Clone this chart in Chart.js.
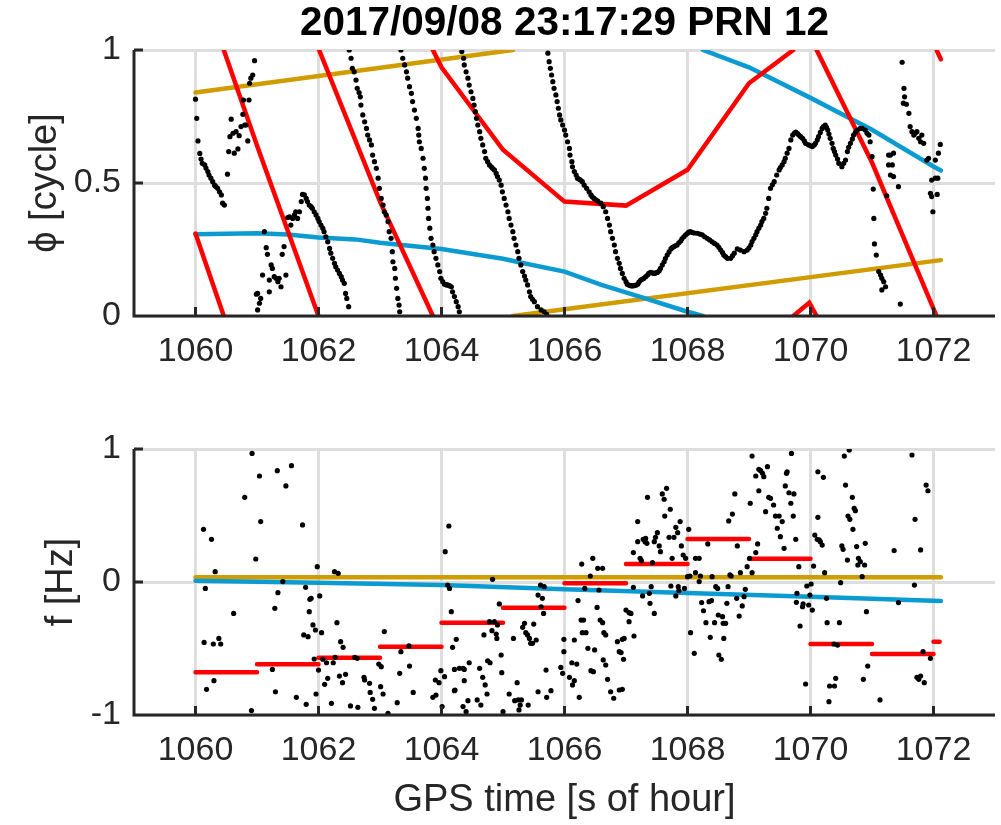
<!DOCTYPE html>
<html>
<head>
<meta charset="utf-8">
<script src="https://cdn.jsdelivr.net/npm/chart.js@4.4.1/dist/chart.umd.min.js"></script>
<style>
  body { margin: 0; background: #fff; }
  #wrap { position: relative; width: 1001px; height: 825px; }
  canvas { position: absolute; left: 0; }
  #phase { top: 0; }
  #freq { top: 400px; }
</style>
</head>
<body>
<div id="wrap">
  <canvas id="phase" width="1001" height="400"></canvas>
  <canvas id="freq" width="1001" height="425"></canvas>
</div>
<script>
  const TITLE = "2017/09/08 23:17:29 PRN 12";
  const xTicks = [1060, 1062, 1064, 1066, 1068, 1070, 1072];
  const phaseTicks = [0, 0.5, 1];
  const freqTicks = [-1, 0, 1];

  // measured phase [time, cycle]
  const phaseDots = [
    [1060.00,0.815],[1060.02,0.743],[1060.04,0.658],[1060.07,0.611],[1060.09,0.590],[1060.11,0.574],[1060.15,0.568],[1060.17,0.556],[1060.20,0.543],[1060.22,0.530],[1060.25,0.518],[1060.28,0.505],[1060.31,0.492],[1060.33,0.487],[1060.36,0.480],[1060.39,0.467],[1060.42,0.455],[1060.44,0.424],[1060.47,0.417],
    [1060.52,0.533],[1060.54,0.618],[1060.56,0.674],[1060.58,0.740],[1060.61,0.687],[1060.63,0.612],[1060.66,0.693],[1060.69,0.628],[1060.71,0.678],[1060.74,0.712],[1060.77,0.758],[1060.78,0.812],[1060.80,0.718],[1060.82,0.718],[1060.85,0.658],[1060.87,0.812],[1060.88,0.875],[1060.90,0.894],[1060.93,0.906],[1060.96,0.960],
    [1060.99,0.082],[1061.01,0.023],[1061.01,0.085],[1061.04,0.048],[1061.06,0.066],[1061.09,0.154],[1061.12,0.317],[1061.15,0.257],[1061.17,0.232],[1061.20,0.091],[1061.20,0.135],[1061.23,0.192],[1061.25,0.179],[1061.28,0.148],[1061.31,0.142],[1061.34,0.129],[1061.36,0.142],[1061.39,0.110],[1061.41,0.232],[1061.44,0.261],[1061.47,0.154],
    [1061.50,0.370],[1061.53,0.373],[1061.55,0.342],[1061.58,0.367],[1061.61,0.380],[1061.63,0.392],[1061.66,0.367],[1061.69,0.392],[1061.72,0.430],[1061.74,0.457],[1061.77,0.455],[1061.80,0.442],[1061.82,0.430],[1061.85,0.417],[1061.88,0.411],[1061.90,0.405],[1061.93,0.392],[1061.96,0.380],[1061.99,0.367],[1062.01,0.355],[1062.04,0.342],[1062.07,0.330],[1062.09,0.317],[1062.12,0.298],[1062.15,0.279],[1062.18,0.254],[1062.20,0.236],[1062.23,0.217],[1062.26,0.198],[1062.28,0.185],[1062.31,0.173],[1062.34,0.160],[1062.37,0.148],[1062.39,0.135],[1062.42,0.123],[1062.44,0.085],[1062.46,0.066],[1062.49,0.035],
    [1062.50,1.000],[1062.53,0.969],[1062.55,0.931],[1062.58,0.918],[1062.61,0.887],[1062.63,0.856],[1062.66,0.840],[1062.68,0.824],[1062.69,0.793],[1062.72,0.756],[1062.75,0.730],[1062.78,0.705],[1062.80,0.680],[1062.83,0.662],[1062.86,0.643],[1062.88,0.605],[1062.91,0.580],[1062.94,0.555],[1062.97,0.518],[1062.99,0.480],[1063.02,0.442],[1063.05,0.417],[1063.07,0.392],[1063.10,0.380],[1063.13,0.355],[1063.15,0.317],[1063.18,0.292],[1063.20,0.242],[1063.21,0.204],[1063.24,0.179],[1063.25,0.142],[1063.27,0.104],[1063.29,0.066],[1063.31,0.041],[1063.32,0.016],
    [1063.34,1.000],[1063.37,0.969],[1063.40,0.944],[1063.43,0.918],[1063.45,0.894],[1063.48,0.862],[1063.51,0.837],[1063.53,0.806],[1063.56,0.774],[1063.59,0.743],[1063.62,0.705],[1063.63,0.680],[1063.64,0.655],[1063.67,0.630],[1063.70,0.593],[1063.72,0.555],[1063.74,0.518],[1063.75,0.480],[1063.77,0.442],[1063.78,0.405],[1063.79,0.367],[1063.81,0.330],[1063.83,0.292],[1063.86,0.267],[1063.88,0.242],[1063.91,0.217],[1063.94,0.192],[1063.97,0.167],[1063.99,0.142],[1064.02,0.129],[1064.05,0.119],[1064.08,0.117],[1064.10,0.117],[1064.13,0.114],[1064.16,0.110],[1064.18,0.091],[1064.21,0.073],[1064.24,0.054],[1064.27,0.035],[1064.29,0.016],
    [1064.33,0.994],[1064.36,0.969],[1064.37,0.944],[1064.40,0.918],[1064.43,0.894],[1064.45,0.868],[1064.48,0.843],[1064.51,0.818],[1064.53,0.793],[1064.55,0.768],[1064.57,0.743],[1064.59,0.718],[1064.62,0.693],[1064.64,0.668],[1064.67,0.643],[1064.70,0.618],[1064.72,0.593],[1064.75,0.580],[1064.78,0.568],[1064.81,0.561],[1064.83,0.555],[1064.86,0.549],[1064.89,0.536],[1064.91,0.524],[1064.94,0.511],[1064.97,0.492],[1064.99,0.467],[1065.02,0.442],[1065.05,0.417],[1065.08,0.392],[1065.10,0.367],[1065.13,0.342],[1065.16,0.317],[1065.18,0.292],[1065.21,0.267],[1065.24,0.242],[1065.26,0.217],[1065.29,0.192],[1065.32,0.167],[1065.35,0.150],[1065.37,0.135],[1065.40,0.117],[1065.43,0.091],[1065.45,0.073],[1065.48,0.063],[1065.51,0.054],[1065.56,0.035],[1065.62,0.023],[1065.67,0.016],[1065.71,0.006],
    [1065.73,0.988],[1065.75,0.956],[1065.77,0.931],[1065.79,0.906],[1065.81,0.881],[1065.83,0.856],[1065.86,0.831],[1065.88,0.806],[1065.90,0.781],[1065.92,0.756],[1065.94,0.737],[1065.97,0.718],[1066.00,0.699],[1066.02,0.680],[1066.05,0.655],[1066.08,0.630],[1066.09,0.605],[1066.12,0.580],[1066.13,0.561],[1066.16,0.543],[1066.19,0.530],[1066.21,0.518],[1066.24,0.514],[1066.26,0.511],[1066.29,0.505],[1066.32,0.492],[1066.36,0.480],[1066.40,0.467],[1066.43,0.455],[1066.45,0.448],[1066.48,0.442],[1066.51,0.437],[1066.54,0.432],[1066.59,0.424],[1066.63,0.411],[1066.67,0.392],[1066.70,0.367],[1066.73,0.342],[1066.75,0.317],[1066.78,0.292],[1066.81,0.267],[1066.83,0.242],[1066.86,0.217],[1066.89,0.198],[1066.91,0.179],[1066.94,0.160],[1066.97,0.142],[1067.00,0.129],[1067.02,0.119],[1067.05,0.116],[1067.08,0.114],[1067.10,0.113],[1067.13,0.114],[1067.16,0.116],[1067.19,0.119],[1067.21,0.127],[1067.24,0.135],[1067.27,0.139],[1067.29,0.142],[1067.32,0.148],[1067.35,0.154],[1067.37,0.160],[1067.40,0.164],[1067.43,0.162],[1067.46,0.160],[1067.48,0.162],[1067.51,0.164],[1067.54,0.170],[1067.56,0.179],[1067.59,0.192],[1067.62,0.204],[1067.64,0.216],[1067.67,0.229],[1067.70,0.241],[1067.73,0.252],[1067.75,0.257],[1067.78,0.261],[1067.80,0.264],[1067.83,0.267],[1067.86,0.275],[1067.89,0.282],[1067.91,0.290],[1067.94,0.298],[1067.97,0.305],[1068.00,0.311],[1068.02,0.315],[1068.05,0.317],[1068.08,0.314],[1068.11,0.312],[1068.16,0.311],[1068.20,0.308],[1068.24,0.305],[1068.28,0.298],[1068.32,0.292],[1068.36,0.286],[1068.40,0.279],[1068.44,0.273],[1068.48,0.267],[1068.51,0.258],[1068.54,0.248],[1068.57,0.238],[1068.59,0.229],[1068.62,0.223],[1068.65,0.217],[1068.70,0.217],[1068.73,0.226],[1068.76,0.236],[1068.81,0.252],[1068.86,0.248],[1068.92,0.242],[1068.97,0.248],[1069.00,0.256],[1069.03,0.267],[1069.05,0.280],[1069.08,0.292],[1069.11,0.305],[1069.13,0.317],[1069.16,0.330],[1069.19,0.342],[1069.21,0.355],[1069.24,0.367],[1069.27,0.386],[1069.29,0.405],[1069.32,0.442],[1069.35,0.480],[1069.38,0.493],[1069.41,0.505],[1069.45,0.530],[1069.49,0.549],[1069.51,0.558],[1069.54,0.568],[1069.57,0.580],[1069.59,0.593],[1069.62,0.612],[1069.65,0.630],[1069.68,0.662],[1069.71,0.680],[1069.74,0.688],[1069.76,0.691],[1069.79,0.686],[1069.81,0.680],[1069.84,0.674],[1069.87,0.668],[1069.90,0.658],[1069.92,0.649],[1069.97,0.643],[1070.00,0.640],[1070.03,0.637],[1070.06,0.643],[1070.08,0.649],[1070.11,0.662],[1070.13,0.674],[1070.16,0.690],[1070.19,0.705],[1070.21,0.712],[1070.24,0.718],[1070.26,0.709],[1070.28,0.699],[1070.30,0.684],[1070.32,0.668],[1070.35,0.649],[1070.37,0.630],[1070.39,0.618],[1070.41,0.605],[1070.44,0.590],[1070.46,0.574],[1070.51,0.561],[1070.54,0.574],[1070.57,0.586],[1070.60,0.618],[1070.62,0.634],[1070.65,0.649],[1070.68,0.665],[1070.70,0.680],[1070.73,0.690],[1070.76,0.699],[1070.81,0.705],[1070.84,0.705],[1070.89,0.699],[1070.92,0.687],[1070.95,0.680],[1070.97,0.655],[1071.00,0.599],[1071.02,0.477],
    [1071.03,0.367],[1071.04,0.271],[1071.07,0.229],[1071.11,0.167],[1071.14,0.154],[1071.16,0.142],[1071.19,0.129],[1071.16,0.098],[1071.22,0.110],[1071.24,0.452],[1071.27,0.605],[1071.30,0.605],[1071.35,0.612],[1071.27,0.568],[1071.33,0.568],[1071.30,0.530],[1071.35,0.524],[1071.43,0.486],[1071.46,0.045],[1071.49,0.954],[1071.52,0.856],[1071.53,0.824],[1071.51,0.800],[1071.56,0.796],[1071.60,0.762],[1071.62,0.712],[1071.65,0.693],[1071.68,0.680],[1071.70,0.687],[1071.73,0.693],[1071.76,0.668],[1071.79,0.655],[1071.81,0.680],[1071.84,0.649],[1071.89,0.586],[1071.92,0.593],[1071.97,0.511],[1072.03,0.518],[1072.07,0.518],[1071.95,0.461],[1071.97,0.449],[1072.06,0.457],[1071.99,0.392],[1072.03,0.586],[1072.08,0.612],[1072.11,0.645]
  ];

  // model phases, wrapped; [t, null] breaks the line
  const phaseRed = [
    [1060.00,0.310],[1060.46,0.000],[1060.46,null],[1060.46,1.000],[1061.00,0.641],[1062.00,0.000],[1062.00,null],
    [1062.01,1.000],[1063.00,0.430],[1063.86,0.000],[1063.86,null],
    [1063.86,1.000],[1064.00,0.935],[1065.00,0.625],[1066.00,0.430],[1067.00,0.415],[1068.00,0.550],[1069.00,0.875],[1069.72,1.000],[1069.72,null],
    [1069.72,0.000],[1069.98,0.050],[1070.10,0.000],[1070.10,null],
    [1070.10,1.000],[1071.00,0.577],[1072.05,0.000],[1072.05,null],
    [1072.05,1.000],[1072.12,0.965]
  ];
  const phaseBlue = [
    [1060.00,0.307],[1061.00,0.311],[1061.50,0.306],[1062.00,0.295],[1062.60,0.288],[1063.00,0.275],[1064.00,0.252],[1065.00,0.215],[1065.30,0.200],[1066.00,0.167],[1066.60,0.117],[1067.30,0.067],[1068.00,0.016],[1068.25,0.000],[1068.25,null],
    [1068.25,1.000],[1069.00,0.935],[1070.00,0.820],[1071.00,0.700],[1072.00,0.562],[1072.12,0.547]
  ];
  const phaseGold = [
    [1060.00,0.840],[1065.16,1.000],[1065.16,null],[1065.16,0.000],[1072.12,0.210]
  ];

  // measured frequency [time, Hz]
  const freqDots = [
    [1060.13,0.396],[1060.26,0.321],[1060.32,0.078],[1060.16,-0.048],[1060.14,-0.454],[1060.29,-0.466],[1060.38,-0.424],[1060.41,-0.466],[1060.30,-0.742],[1060.18,-0.807],[1060.62,-0.236],[1060.80,0.637],[1060.92,0.967],[1061.04,0.797],[1061.06,0.454],[1060.98,0.173],[1060.91,-0.967],[1061.25,-0.657],[1061.30,-0.825],[1061.33,0.837],[1061.47,0.722],[1061.56,0.875],[1061.34,-0.080],[1061.42,0.003],[1061.29,-0.198],[1061.74,0.429],[1061.79,-0.040],[1061.86,-0.130],[1061.88,-0.123],[1061.85,-0.223],[1061.91,-0.323],[1061.95,-0.361],[1062.05,-0.381],[1061.76,-0.398],[1061.83,-0.411],[1061.98,0.115],[1062.02,-0.105],[1061.64,-0.867],[1061.80,-0.920],[1061.96,-0.842],[1061.93,-0.579],[1062.00,-0.662],[1062.07,-0.581],[1062.13,-0.607],[1062.15,-0.724],[1062.10,-0.769],[1062.21,-0.912],[1062.26,0.078],[1062.32,0.065],[1062.30,-0.306],[1062.24,-0.607],[1062.27,-0.566],[1062.36,-0.449],[1062.40,-0.491],[1062.34,-0.707],[1062.39,-0.757],[1062.44,-0.694],[1062.52,-0.932],[1062.64,-0.942],[1062.59,-0.566],[1062.63,-0.574],[1062.74,-0.717],[1062.75,-0.737],[1062.83,-0.762],[1062.84,-0.830],[1062.88,-0.882],[1062.91,-0.950],[1063.01,-0.787],[1063.05,-0.842],[1063.13,-0.987],[1062.98,-0.617],[1063.02,-0.637],[1063.07,-0.373],[1063.32,-0.687],[1063.34,-0.524],[1063.47,-0.481],[1063.48,-0.632],[1063.28,-0.907],[1063.54,-0.830],[1063.86,-0.867],[1063.91,-0.850],[1063.90,-0.737],[1063.96,-0.757],[1063.99,-0.667],[1064.05,-0.712],[1064.01,-0.937],[1064.21,-0.817],[1064.18,-0.491],[1064.21,-0.657],[1064.24,-0.431],[1064.16,-0.223],[1064.06,0.228],[1064.12,0.421],[1064.10,-0.023],[1064.13,-0.048],
    [1064.35,-0.937],[1064.40,-0.975],[1064.43,-0.892],[1064.37,-0.742],[1064.29,-0.649],[1064.35,-0.649],[1064.37,-0.657],[1064.45,-0.607],[1064.22,-0.812],[1064.58,-0.887],[1064.64,-0.925],[1064.62,-0.649],[1064.67,-0.717],[1064.71,-0.774],[1064.74,-0.842],[1064.69,-0.398],[1064.75,-0.592],[1064.79,-0.607],[1064.83,0.020],[1064.78,-0.298],[1064.82,-0.366],[1064.86,-0.298],[1064.89,-0.391],[1064.90,-0.424],[1064.91,-0.323],[1064.94,-0.165],[1064.97,-0.549],[1064.98,-0.682],[1065.00,-0.975],[1065.10,-0.842],[1065.17,-0.424],[1065.23,-0.757],[1065.19,-0.892],[1065.25,-0.887],[1065.28,-0.925],[1065.30,-0.887],[1065.26,-0.962],[1065.32,-0.341],[1065.35,-0.311],[1065.37,-0.381],[1065.40,-0.398],[1065.43,-0.424],[1065.45,-0.461],[1065.50,-0.316],[1065.48,-0.461],[1065.54,-0.436],[1065.41,-0.925],[1065.57,-0.825],[1065.71,-0.867],[1065.78,-0.817],[1065.70,-0.662],[1065.61,-0.023],[1065.57,-0.098],[1065.64,-0.123],[1065.62,-0.186],[1065.66,-0.236],[1065.67,-0.035],[1065.94,-0.642],[1065.97,-0.687],[1065.99,-0.524],[1065.99,-0.431],[1066.08,-0.717],[1066.13,-0.774],[1066.16,-0.742],[1066.24,-0.867],[1066.12,-0.607],[1066.20,-0.617],[1066.16,-0.436],[1066.27,-0.286],[1066.31,-0.286],[1066.29,-0.381],[1066.35,-0.381],[1066.38,-0.499],[1066.22,-0.140],[1066.28,0.135],[1066.33,-0.048],[1066.42,0.045],[1066.46,0.178],[1066.43,-0.667],[1066.47,-0.674],[1066.49,-0.511],[1066.53,-0.191],[1066.56,-0.060],[1066.54,0.103],[1066.62,0.103],[1066.58,-0.286],[1066.62,-0.306],[1066.64,-0.381],[1066.67,-0.398],[1066.63,-0.586],[1066.67,-0.624],[1066.70,-0.732],[1066.75,-0.825],[1066.80,-0.874],[1066.86,-0.449],[1066.89,-0.524],[1066.92,-0.531],[1066.96,-0.581],[1066.94,-0.431],[1066.97,-0.424],[1066.89,-0.812],[1066.94,-0.807],[1067.00,-0.211],[1067.05,-0.231],[1067.08,-0.236],[1067.05,-0.298],[1067.13,-0.406],[1067.12,-0.040],[1067.19,0.454],[1067.19,0.303],[1067.12,0.221],[1067.23,0.178],[1067.25,0.160],[1067.28,0.321],[1067.32,0.328],[1067.31,0.303],[1067.35,0.637],[1067.34,0.291],[1067.27,-0.105],[1067.39,-0.160],[1067.38,-0.085],[1067.41,-0.035],[1067.46,-0.236],[1067.43,0.145],[1067.46,0.303],[1067.48,0.336],[1067.51,0.371],[1067.54,0.271],[1067.56,0.228],[1067.59,0.662],[1067.62,0.622],[1067.66,0.704],[1067.63,0.496],[1067.72,0.547],[1067.70,0.336],[1067.73,-0.030],[1067.75,0.178],[1067.78,0.336],[1067.81,0.411],[1067.84,0.371],[1067.85,-0.035],[1067.86,-0.065],[1067.88,0.454],[1067.81,-0.105],[1067.90,0.271],[1067.93,0.203],[1067.97,0.178],[1067.95,-0.048],[1068.02,0.396],[1068.00,0.040],[1068.04,0.045],[1068.05,-0.381],[1068.11,-0.536],[1068.13,0.178],[1068.19,0.178],[1068.13,0.070],[1068.19,0.003],[1068.21,0.045],[1068.23,-0.155],[1068.26,-0.216],[1068.30,-0.306],[1068.33,0.286],[1068.35,-0.148],[1068.37,-0.416],[1068.39,-0.140],[1068.40,0.040],[1068.44,-0.306],[1068.46,-0.035],[1068.49,-0.048],[1068.50,-0.248],[1068.51,-0.549],[1068.55,-0.581],[1068.57,-0.261],[1068.58,-0.311],[1068.59,-0.424],[1068.62,-0.311],[1068.64,-0.160],[1068.66,-0.035],[1068.69,0.053],[1068.71,0.045],[1068.67,0.459],[1068.73,0.511],[1068.77,0.662],[1068.81,0.271],[1068.80,-0.123],[1068.84,-0.256],[1068.86,0.070],[1068.89,-0.180],[1068.92,-0.110],[1068.94,-0.055],[1068.97,0.115],[1069.02,0.592],[1069.05,0.947],[1069.11,0.797],[1069.16,0.686],[1069.05,0.070],[1069.11,0.221],[1069.14,0.286],[1069.16,0.847],[1069.01,0.178],
    [1069.19,0.837],[1069.22,0.817],[1069.24,0.792],[1069.27,0.529],[1069.30,0.867],[1069.32,0.637],[1069.35,0.629],[1069.40,0.579],[1069.43,0.496],[1069.46,0.404],[1069.49,0.496],[1069.51,0.341],[1069.54,0.454],[1069.57,0.253],[1069.59,0.722],[1069.61,0.817],[1069.62,0.829],[1069.65,0.671],[1069.68,0.592],[1069.69,0.967],[1069.72,0.496],[1069.73,0.662],[1069.76,0.321],[1069.81,0.115],[1069.78,-0.085],[1069.77,-0.153],[1069.83,-0.331],[1069.87,-0.186],[1069.88,-0.165],[1069.92,-0.767],[1069.94,-0.030],[1069.97,-0.173],[1069.99,-0.098],[1070.01,-0.015],[1070.03,-0.211],[1070.05,0.120],[1070.07,0.353],[1070.11,0.321],[1070.14,0.316],[1070.12,0.486],[1070.12,0.829],[1070.21,0.787],[1070.16,0.303],[1070.19,0.278],[1070.23,0.070],[1070.26,-0.123],[1070.27,-0.306],[1070.30,-0.900],[1070.31,-0.782],[1070.39,-0.782],[1070.41,-0.724],[1070.38,-0.466],[1070.44,-0.474],[1070.47,-0.306],[1070.49,-0.005],[1070.51,0.271],[1070.53,0.246],[1070.55,0.947],[1070.63,0.992],[1070.57,0.729],[1070.60,0.165],[1070.61,0.496],[1070.64,0.471],[1070.68,0.637],[1070.69,0.396],[1070.71,0.554],[1070.73,0.536],[1070.75,0.266],[1070.77,0.128],[1070.78,0.178],[1070.81,0.153],[1070.84,0.040],[1070.88,0.128],[1070.89,0.291],[1070.91,-0.223],[1070.93,-0.632],[1070.86,-0.732],[1071.13,-0.887],[1071.36,0.236],[1071.43,-0.155],[1071.65,0.955],[1071.70,0.471],[1071.79,0.241],[1071.69,-0.023],[1071.73,-0.717],[1071.76,-0.732],[1071.79,-0.707],[1071.83,-0.524],[1071.85,-0.757],[1071.88,0.729],[1071.91,0.686],[1071.95,-0.574]
  ];

  // red per-second frequency estimate
  const stepStart = [1060, 1061, 1062, 1063, 1064, 1065, 1066, 1067, 1068, 1069, 1070, 1071, 1072];
  const stepEnd   = [1061, 1062, 1063, 1064, 1065, 1066, 1067, 1068, 1069, 1070, 1071, 1072, 1072.1];
  const stepFreq  = [-0.679, -0.619, -0.569, -0.486, -0.306, -0.193, -0.010, 0.135, 0.323, 0.175, -0.466, -0.541, -0.449];
  const freqBlue = [[1060,0.010],[1062,-0.005],[1064,-0.023],[1066,-0.055],[1068,-0.082],[1070,-0.110],[1072.12,-0.143]];
  const freqGold = [[1060,0.035],[1072.12,0.035]];

  const FONT = "'Liberation Sans', Arial, sans-serif";
  const INK = "#262626";
  const RED = "#ff0000";
  const BLUE = "#0b9bd0";
  const GOLD = "#d09c00";

  const pts = (arr) => arr.map((p) => ({ x: p[0], y: p[1] }));

  const stepData = [];
  stepStart.forEach((s, i) => {
    stepData.push({ x: s, y: stepFreq[i] }, { x: stepEnd[i], y: stepFreq[i] }, { x: stepEnd[i], y: null });
  });

  function dots(arr) {
    return { data: pts(arr), showLine: false, pointRadius: 2.6, pointBorderWidth: 0, pointBackgroundColor: "#000", order: 0 };
  }
  function line(data, color, order) {
    return { data, showLine: true, pointRadius: 0, borderColor: color, borderWidth: 4.5, spanGaps: false, fill: false, order, borderCapStyle: "round" };
  }

  // MATLAB-like axes: dark left/bottom lines with inward ticks
  const axisLines = {
    id: "axisLines",
    afterDatasetsDraw(chart) {
      const { ctx, chartArea: a, scales } = chart;
      ctx.save();
      ctx.strokeStyle = INK;
      ctx.lineWidth = 3;
      ctx.beginPath();
      ctx.moveTo(a.left, a.top);
      ctx.lineTo(a.left, a.bottom);
      ctx.lineTo(a.right, a.bottom);
      scales.x.ticks.forEach((t) => {
        const px = scales.x.getPixelForValue(t.value);
        ctx.moveTo(px, a.bottom);
        ctx.lineTo(px, a.bottom - 9);
      });
      scales.y.ticks.forEach((t) => {
        const py = scales.y.getPixelForValue(t.value);
        ctx.moveTo(a.left, py);
        ctx.lineTo(a.left + 9, py);
      });
      ctx.stroke();
      ctx.restore();
    },
  };

  function options(cfg) {
    return {
      responsive: false,
      animation: false,
      devicePixelRatio: 1,
      layout: { padding: { top: cfg.padTop, right: 6, left: 0, bottom: 0 } },
      plugins: {
        legend: { display: false },
        tooltip: { enabled: false },
        title: cfg.title
          ? { display: true, text: cfg.title, fullSize: false, color: "#000", font: { family: FONT, size: 40.5, weight: "bold", lineHeight: 1.2 }, padding: { top: 0, bottom: 1.4 } }
          : { display: false },
      },
      scales: {
        x: {
          type: "linear",
          min: 1059,
          max: 1073,
          afterBuildTicks: (s) => { s.ticks = xTicks.map((v) => ({ value: v })); },
          afterFit: (s) => { s.height = cfg.xHeight; },
          grid: { color: "#dedede", lineWidth: 3, drawTicks: false },
          border: { display: false },
          ticks: { color: INK, padding: 15, maxRotation: 0, autoSkip: false, font: { family: FONT, size: 34 }, callback: (v) => String(v) },
          title: cfg.xTitle
            ? { display: true, text: cfg.xTitle, color: INK, font: { family: FONT, size: 38, lineHeight: 1.2 }, padding: { top: 0, bottom: 2 } }
            : { display: false },
        },
        y: {
          type: "linear",
          min: cfg.yMin,
          max: cfg.yMax,
          afterBuildTicks: (s) => { s.ticks = cfg.yTicks.map((v) => ({ value: v })); },
          afterFit: (s) => { s.width = 134; },
          grid: { color: "#dedede", lineWidth: 3, drawTicks: false },
          border: { display: false },
          ticks: { color: INK, padding: 13, font: { family: FONT, size: 34 }, callback: (v) => String(v) },
          title: { display: true, text: cfg.yTitle, color: INK, font: { family: FONT, size: 38, lineHeight: 1.2 }, padding: { top: cfg.yTitlePad, bottom: 0 } },
        },
      },
    };
  }

  new Chart(document.getElementById("phase"), {
    type: "scatter",
    data: {
      datasets: [dots(phaseDots), line(pts(phaseRed), RED, 1), line(pts(phaseBlue), BLUE, 2), line(pts(phaseGold), GOLD, 3)],
    },
    options: options({ title: TITLE, padTop: 0, xHeight: 84, yMin: 0, yMax: 1, yTicks: phaseTicks, yTitle: "ϕ [cycle]", yTitlePad: 23 }),
    plugins: [axisLines],
  });

  new Chart(document.getElementById("freq"), {
    type: "scatter",
    data: {
      datasets: [dots(freqDots), line(stepData, RED, 1), line(pts(freqBlue), BLUE, 2), line(pts(freqGold), GOLD, 3)],
    },
    options: options({ padTop: 49, xHeight: 110, xTitle: "GPS time [s of hour]", yMin: -1, yMax: 1, yTicks: freqTicks, yTitle: "f [Hz]", yTitlePad: 39 }),
    plugins: [axisLines],
  });
</script>
</body>
</html>
